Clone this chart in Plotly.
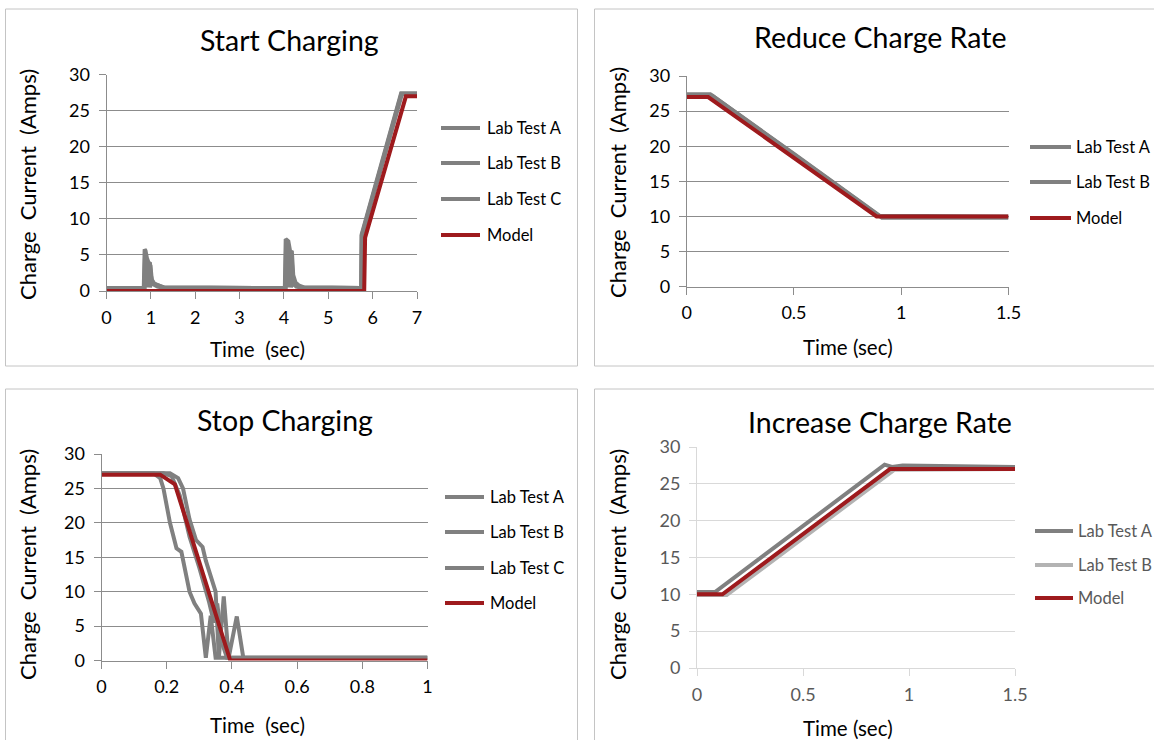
import plotly.graph_objects as go

W, H = 1154, 740

# ---------------- data ----------------
# Start Charging (time in s, current in A); the bursts near 1 s and 4 s are
# densely sampled oscillations, so the traces fill the area under each burst
start_lab_a_t = [0, 0.84, 0.86, 0.88, 0.91, 0.95, 0.98, 1.00, 1.04, 1.10, 1.20, 1.30,
                 4.02, 4.04, 4.07, 4.10, 4.14, 4.18, 4.21, 4.26, 4.33, 4.45,
                 5.74, 5.75, 6.64, 7.00]
start_lab_a_i = [0.4, 0.4, 5.8, 5.6, 4.6, 3.9, 3.8, 2.2, 1.1, 0.9, 0.7, 0.5,
                 0.4, 7.2, 7.1, 6.9, 5.5, 5.4, 2.2, 1.2, 0.8, 0.5,
                 0.4, 7.8, 27.4, 27.4]
start_lab_b_t = [0, 0.85, 0.87, 0.89, 0.91, 0.93, 0.95, 0.97, 0.99, 1.02, 1.08, 1.18, 1.28,
                 4.03, 4.05, 4.07, 4.09, 4.11, 4.13, 4.15, 4.17, 4.20, 4.24, 4.30, 4.42,
                 5.75, 5.76, 6.66, 7.00]
start_lab_b_i = [0.4, 0.4, 5.2, 0.6, 4.4, 0.6, 3.7, 0.6, 3.6, 1.6, 1.0, 0.7, 0.5,
                 0.4, 6.8, 0.6, 6.5, 0.6, 5.3, 0.6, 5.2, 1.8, 1.0, 0.7, 0.5,
                 0.4, 7.6, 27.3, 27.3]
start_lab_c_t = [0, 0.86, 0.88, 0.90, 0.92, 0.94, 0.96, 0.98, 1.00, 1.06, 1.15, 1.25,
                 4.04, 4.06, 4.08, 4.10, 4.12, 4.14, 4.16, 4.19, 4.23, 4.28, 4.38,
                 5.745, 5.755, 6.65, 7.00]
start_lab_c_i = [0.4, 0.4, 4.6, 0.5, 4.0, 0.5, 3.5, 0.5, 1.4, 0.9, 0.6, 0.5,
                 0.4, 6.2, 0.5, 5.8, 0.5, 5.0, 0.5, 1.5, 0.9, 0.6, 0.5,
                 0.4, 7.7, 27.4, 27.4]
start_model_t = [0, 5.81, 5.83, 6.75, 7.00]
start_model_i = [0, 0, 7.4, 27.0, 27.0]

# Reduce Charge Rate
reduce_lab_a_t = [0, 0.11, 0.50, 0.90, 1.50]
reduce_lab_a_i = [27.4, 27.4, 18.9, 10.1, 10.0]
reduce_lab_b_t = [0, 0.12, 0.91, 1.50]
reduce_lab_b_i = [27.2, 27.2, 9.8, 9.8]
reduce_model_t = [0, 0.10, 0.885, 1.50]
reduce_model_i = [27.0, 27.0, 10.0, 10.0]

# Stop Charging
stop_lab_a_t = [0, 0.16, 0.18, 0.19, 0.21, 0.23, 0.245, 0.27, 0.285, 0.305, 0.32, 0.335, 0.35, 1.0]
stop_lab_a_i = [27.2, 27.2, 26.5, 25, 20, 16.3, 15.8, 10, 8.3, 6.8, 0.4, 6.5, 0.4, 0.4]
stop_lab_b_t = [0, 0.21, 0.235, 0.25, 0.27, 0.29, 0.31, 0.32, 0.35, 0.36, 0.375, 0.39, 0.415, 0.435, 1.0]
stop_lab_b_i = [27.2, 27.2, 26.5, 25, 20.5, 17.5, 16.5, 14.5, 10, 0.4, 9.3, 0.4, 6.4, 0.4, 0.4]
stop_lab_c_t = [0, 0.19, 0.215, 0.24, 0.27, 0.30, 0.33, 0.345, 0.355, 0.37, 0.385, 1.0]
stop_lab_c_i = [27.2, 27.2, 26.8, 24, 18, 13.5, 8.5, 5.5, 8.3, 2.5, 0.4, 0.4]
stop_model_t = [0, 0.18, 0.225, 0.395, 1.0]
stop_model_i = [27.0, 27.0, 25.6, 0, 0]

# Increase Charge Rate
increase_lab_a_t = [0, 0.085, 0.885, 0.92, 0.97, 1.5]
increase_lab_a_i = [10.3, 10.3, 27.6, 27.3, 27.5, 27.3]
increase_lab_b_t = [0, 0.14, 0.93, 1.5]
increase_lab_b_i = [9.9, 9.9, 26.9, 27.0]
increase_model_t = [0, 0.12, 0.91, 1.5]
increase_model_i = [10.0, 10.0, 27.0, 27.0]

y_ticks = [0, 5, 10, 15, 20, 25, 30]
start_x_ticks = [0, 1, 2, 3, 4, 5, 6, 7]
rate_x_ticks = [0, 0.5, 1, 1.5]
stop_x_ticks = [0, 0.2, 0.4, 0.6, 0.8, 1]
stop_x_labels = ["0", "0.2", "0.4", "0.6", "0.8", "1"]

# ---------------- styling ----------------
FONT = "Lato, 'Open Sans', sans-serif"
GREY = "#808080"
LIGHT_GREY = "#b3b3b3"
RED = "#9e1a1d"
NB = "\u00a0"
Y_TITLE = "Charge" + NB * 2 + "Current" + NB * 2 + "(Amps)"


def px(x):
    return x / W


def py(y):
    return 1 - y / H


panels = [
    dict(title="Start Charging", xt="Time" + NB * 2 + "(sec)",
         xdom=(106.5, 417), ydom=(291, 74.7), xr=[0, 7], xticks=start_x_ticks, xlabels=None,
         box=(5.5, 9, 577.5, 366), tpos=(289, 40), ytpos=(27, 185), xtpos=(257, 349),
         grid="#8c8c8c", tickc="#000000",
         series=[("Lab Test A", start_lab_a_t, start_lab_a_i, GREY),
                 ("Lab Test B", start_lab_b_t, start_lab_b_i, GREY),
                 ("Lab Test C", start_lab_c_t, start_lab_c_i, GREY),
                 ("Model", start_model_t, start_model_i, RED)],
         leg=(441, 480, 485, [128, 163, 199, 235]), legc="#000000", legsize=16.5),
    dict(title="Reduce Charge Rate", xt="Time (sec)",
         xdom=(686.7, 1008.5), ydom=(286.7, 76), xr=[0, 1.5], xticks=rate_x_ticks, xlabels=None,
         box=(594.5, 9, 1160, 366), tpos=(880, 37), ytpos=(617, 183), xtpos=(848, 347),
         grid="#8c8c8c", tickc="#000000",
         series=[("Lab Test A", reduce_lab_a_t, reduce_lab_a_i, GREY),
                 ("Lab Test B", reduce_lab_b_t, reduce_lab_b_i, GREY),
                 ("Model", reduce_model_t, reduce_model_i, RED)],
         leg=(1030, 1071, 1074, [147, 182, 218]), legc="#000000", legsize=16.5),
    dict(title="Stop Charging", xt="Time" + NB * 2 + "(sec)",
         xdom=(101.5, 427.5), ydom=(660.5, 454), xr=[0, 1], xticks=stop_x_ticks, xlabels=stop_x_labels,
         box=(5.5, 389, 577.5, 760), tpos=(285, 420), ytpos=(27, 565), xtpos=(257, 725),
         grid="#8c8c8c", tickc="#000000",
         series=[("Lab Test A", stop_lab_a_t, stop_lab_a_i, GREY),
                 ("Lab Test B", stop_lab_b_t, stop_lab_b_i, GREY),
                 ("Lab Test C", stop_lab_c_t, stop_lab_c_i, GREY),
                 ("Model", stop_model_t, stop_model_i, RED)],
         leg=(445, 484, 488, [497, 532, 568, 603]), legc="#000000", legsize=16.5),
    dict(title="Increase Charge Rate", xt="Time (sec)",
         xdom=(697, 1015), ydom=(668, 447), xr=[0, 1.5], xticks=rate_x_ticks, xlabels=None,
         box=(594.5, 389, 1160, 760), tpos=(880, 422), ytpos=(617, 565), xtpos=(848, 728),
         grid="#d9d9d9", tickc="#595959",
         series=[("Lab Test A", increase_lab_a_t, increase_lab_a_i, GREY),
                 ("Lab Test B", increase_lab_b_t, increase_lab_b_i, LIGHT_GREY),
                 ("Model", increase_model_t, increase_model_i, RED)],
         leg=(1035, 1073, 1076, [531, 565, 598]), legc="#595959", legsize=16.5),
]

fig = go.Figure()
layout = dict(width=W, height=H, margin=dict(l=0, r=0, t=0, b=0, pad=0), autosize=False,
              paper_bgcolor="white", plot_bgcolor="white", showlegend=False,
              font=dict(family=FONT, color="#000000"))
shapes, annotations = [], []

for k, p in enumerate(panels, start=1):
    sfx = "" if k == 1 else str(k)
    for name, t, cur, col in p["series"]:
        fig.add_trace(go.Scatter(x=t, y=cur, name=name, mode="lines",
                                 line=dict(color=col, width=4), cliponaxis=False,
                                 xaxis="x" + sfx, yaxis="y" + sfx))

    layout["xaxis" + sfx] = dict(
        domain=[px(p["xdom"][0]), px(p["xdom"][1])], range=p["xr"], anchor="y" + sfx,
        automargin=False, tickvals=p["xticks"], ticktext=p["xlabels"],
        showgrid=False, zeroline=False,
        showline=True, linecolor=p["grid"], linewidth=1,
        ticks="outside", ticklen=7, tickcolor=p["grid"], ticklabelstandoff=3,
        tickfont=dict(size=18, color=p["tickc"], family=FONT))
    layout["yaxis" + sfx] = dict(
        domain=[py(p["ydom"][0]), py(p["ydom"][1])], range=[0, 30], anchor="x" + sfx,
        automargin=False, tickvals=y_ticks,
        showgrid=True, gridcolor=p["grid"], gridwidth=1, zeroline=False,
        showline=True, linecolor=p["grid"], linewidth=1,
        ticks="outside", ticklen=7, tickcolor=p["grid"], ticklabelstandoff=5,
        tickfont=dict(size=18, color=p["tickc"], family=FONT))

    x0, y0, x1, y1 = p["box"]
    shapes.append(dict(type="rect", xref="paper", yref="paper",
                       x0=px(x0), x1=px(x1), y0=py(y1), y1=py(y0),
                       line=dict(color="#c4c4c4", width=1), layer="below"))

    annotations.append(dict(text=p["title"], x=px(p["tpos"][0]), y=py(p["tpos"][1]),
                            xref="paper", yref="paper", showarrow=False,
                            xanchor="center", yanchor="middle",
                            font=dict(size=28.5, color="#000000", family=FONT)))
    annotations.append(dict(text=Y_TITLE, x=px(p["ytpos"][0]), y=py(p["ytpos"][1]),
                            xref="paper", yref="paper", showarrow=False, textangle=-90,
                            xanchor="center", yanchor="middle",
                            font=dict(size=22, color="#000000", family=FONT)))
    annotations.append(dict(text=p["xt"], x=px(p["xtpos"][0]), y=py(p["xtpos"][1]),
                            xref="paper", yref="paper", showarrow=False,
                            xanchor="center", yanchor="middle",
                            font=dict(size=20.5, color="#000000", family=FONT)))

    lx0, lx1, ltx, rows = p["leg"]
    for (name, _, _, col), ry in zip(p["series"], rows):
        shapes.append(dict(type="line", xref="paper", yref="paper",
                           x0=px(lx0), x1=px(lx1), y0=py(ry), y1=py(ry),
                           line=dict(color=col, width=4)))
        annotations.append(dict(text=name, x=px(ltx), y=py(ry), xref="paper", yref="paper",
                                showarrow=False, xanchor="left", yanchor="middle",
                                font=dict(size=p["legsize"], color=p["legc"], family=FONT)))

layout["shapes"] = shapes
layout["annotations"] = annotations
fig.update_layout(**layout)
fig.write_html("out.html")
